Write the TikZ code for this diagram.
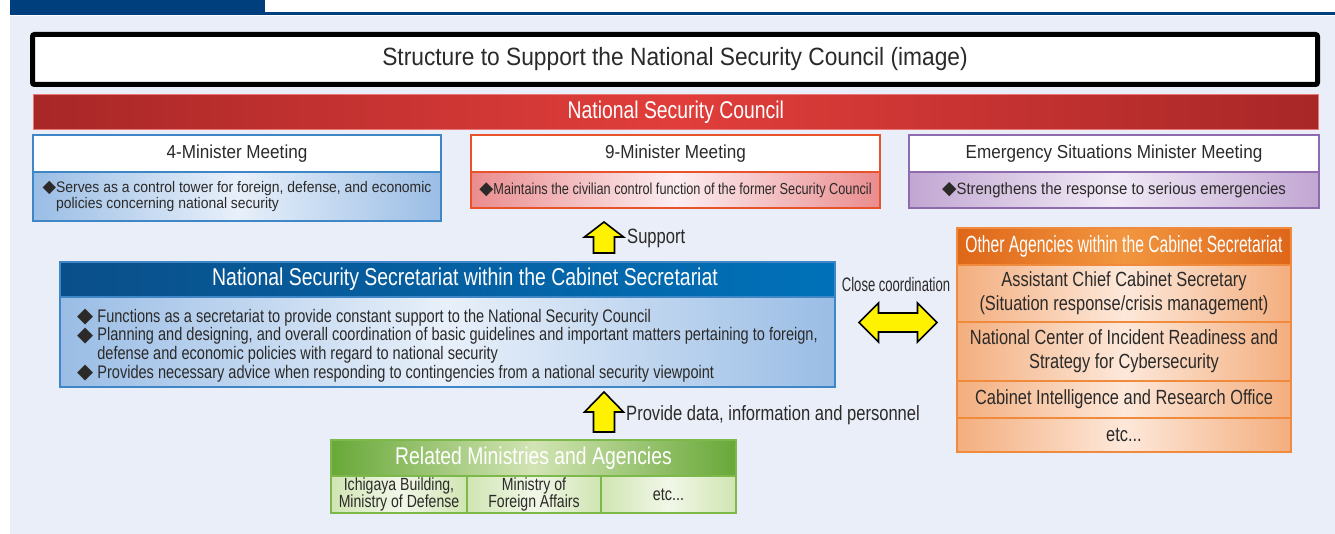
\documentclass[tikz,border=0pt]{standalone}
\usepackage{graphicx}
\usepackage{fontspec}
\setmainfont{Liberation Sans}[FakeStretch=0.91]
\newfontfamily\cond{Liberation Sans}[FakeStretch=0.8]
\newfontfamily\ultra{Liberation Sans}[FakeStretch=0.67]
\newfontfamily\symfont{DejaVu Sans}
\usetikzlibrary{positioning}

\definecolor{ink}{HTML}{2B2A29}
\definecolor{panel}{HTML}{E9EEF8}
\definecolor{navy}{HTML}{003F7D}
\definecolor{redend}{HTML}{A82727}
\definecolor{redmid}{HTML}{E13E3B}
\definecolor{bluebd}{HTML}{3F86C6}
\definecolor{blueend}{HTML}{9ABDE5}
\definecolor{bluemid}{HTML}{E8F0FA}
\definecolor{pinkbd}{HTML}{E8532C}
\definecolor{pinkend}{HTML}{EA8C8E}
\definecolor{pinkmid}{HTML}{FCEEF2}
\definecolor{purpbd}{HTML}{8D6BAE}
\definecolor{purpend}{HTML}{C1A6D2}
\definecolor{purpmid}{HTML}{F1EAF6}
\definecolor{secdark}{HTML}{0A4F8A}
\definecolor{seclight}{HTML}{0071B9}
\definecolor{orabd}{HTML}{F08A3C}
\definecolor{oradark}{HTML}{DE6619}
\definecolor{oralight}{HTML}{F29640}
\definecolor{oraend}{HTML}{F3AE7E}
\definecolor{oramid}{HTML}{FDE8DA}
\definecolor{grnbd}{HTML}{7DB84A}
\definecolor{grndark}{HTML}{68A838}
\definecolor{grnlight}{HTML}{D2E4B4}
\definecolor{grnend}{HTML}{D0E5B2}
\definecolor{grnmid}{HTML}{F1F7E8}
\definecolor{arrowyel}{HTML}{FFF200}

\newcommand{\dia}{\raisebox{-0.05ex}{\scalebox{1.15}{\symfont\symbol{"25C6}}}}
\newcommand{\fs}[2]{\fontsize{#1}{#2}\selectfont}

\tikzset{
  box/.style={draw=#1, line width=1.5pt, anchor=north west, inner sep=0pt, outer sep=0pt, text=ink},
  band/.style={shading=axis, shading angle=90, left color=#1end, right color=#1end, middle color=#1mid},
  yarrow/.style={draw=black, line width=1.6pt, fill=arrowyel, line join=miter},
  lbl/.style={text=ink, inner sep=0pt}
}

\begin{document}
\begin{tikzpicture}[x=1pt,y=-1pt]
\useasboundingbox (0,0) rectangle (1335,534);
\fill[panel] (10,16) rectangle (1335,534);
\fill[navy] (10,0) rectangle (265,15);
\fill[navy] (265,12) rectangle (1335,15);

% title and council
\node[box=black, line width=5pt, rounded corners=2pt, fill=white, minimum width=1285, minimum height=50, font=\fs{25}{28}] (title) at (32.5,34.5) {Structure to Support the National Security Council (image)};
\node[anchor=north west, inner sep=0pt, minimum width=1285, minimum height=35, shading=axis, shading angle=90, left color=redend, right color=redend, middle color=redmid, draw=redmid!70!white, line width=.6pt, text=white, font=\cond\fs{24.2}{26}] (nsc) at (33,94) {National Security Council};

% meetings
\node[box=bluebd, fill=white, minimum width=408, minimum height=37, font=\fs{18.8}{20}] (m4) at (33,135) {4-Minister Meeting};
\node[box=bluebd, band=blue, minimum width=408, minimum height=49, font=\fs{15.3}{16.5}, align=left, below=0pt of m4] (m4b) {\dia Serves as a control tower for foreign, defense, and economic\\\phantom{\dia}policies concerning national security};

\node[box=pinkbd, fill=white, minimum width=409, minimum height=37, font=\fs{18.8}{20}] (m9) at (471,135) {9-Minister Meeting};
\node[box=pinkbd, band=pink, minimum width=409, minimum height=36, font=\cond\fs{15.9}{18}, below=0pt of m9] (m9b) {\dia Maintains the civilian control function of the former Security Council};

\node[box=purpbd, fill=white, minimum width=410, minimum height=37, font=\fs{18.8}{20}] (me) at (909,135) {Emergency Situations Minister Meeting};
\node[box=purpbd, band=purp, minimum width=410, minimum height=36, font=\fs{16.4}{18}, below=0pt of me] (meb) {\dia Strengthens the response to serious emergencies};

% secretariat
\node[box=bluebd, shading=axis, shading angle=90, left color=secdark, right color=seclight, text=white, minimum width=775, minimum height=35, font=\cond\fs{24.3}{26}] (sh) at (60,262) {\hspace*{35pt}National Security Secretariat within the Cabinet Secretariat};
\node[box=bluebd, band=blue, minimum width=775, minimum height=90, align=left, font=\cond\fs{18.2}{18.6}, below=0pt of sh] (sb) {\rule{0pt}{20pt}\dia\ Functions as a secretariat to provide constant support to the National Security Council\\
\dia\ Planning and designing, and overall coordination of basic guidelines and important matters pertaining to foreign,\\
\phantom{\dia\ }defense and economic policies with regard to national security\\
\dia\ Provides necessary advice when responding to contingencies from a national security viewpoint};

% other agencies
\node[box=orabd, shading=axis, shading angle=90, left color=oradark, right color=oradark, middle color=oralight, text=white, minimum width=334, minimum height=37, font=\ultra\fs{23.4}{24}] (oh) at (957,228) {Other Agencies within the Cabinet Secretariat};
\node[box=orabd, band=ora, minimum width=334, minimum height=57, align=center, font=\cond\fs{20.5}{24}, below=0pt of oh] (o1) {Assistant Chief Cabinet Secretary\\(Situation response/crisis management)};
\node[box=orabd, band=ora, minimum width=334, minimum height=59, align=center, font=\cond\fs{20.5}{24}, below=0pt of o1] (o2) {National Center of Incident Readiness and\\Strategy for Cybersecurity};
\node[box=orabd, band=ora, minimum width=334, minimum height=37, font=\cond\fs{20.5}{22}, below=0pt of o2] (o3) {Cabinet Intelligence and Research Office};
\node[box=orabd, band=ora, minimum width=334, minimum height=34, font=\cond\fs{20.5}{22}, below=0pt of o3] (o4) {etc...};

% related ministries
\node[box=grnbd, shading=axis, shading angle=90, left color=grndark, right color=grndark, middle color=grnlight, text=white, minimum width=405, minimum height=36, font=\cond\fs{24.2}{26}] (gh) at (331,440) {Related Ministries and Agencies};
\node[box=grnbd, band=grn, minimum width=136, minimum height=37, align=center, font=\cond\fs{17.6}{17}, below right=0pt and 0pt of gh.south west] (g1) {Ichigaya Building,\\Ministry of Defense};
\node[box=grnbd, band=grn, minimum width=134, minimum height=37, align=center, font=\cond\fs{17.6}{17}, right=0pt of g1] (g2) {Ministry of\\Foreign Affairs};
\node[box=grnbd, band=grn, minimum width=135, minimum height=37, font=\cond\fs{18}{18}, right=0pt of g2] (g3) {etc...};

% block arrows
\coordinate (suptip) at (604,222);
\coordinate (protip) at (604,392);
\draw[yarrow] (suptip) -- ++(19.5,15) -- ++(-9,0) -- ++(0,16) -- ++(-21,0) -- ++(0,-16) -- ++(-9,0) -- cycle;
\draw[yarrow] (protip) -- ++(19.5,20) -- ++(-9,0) -- ++(0,20) -- ++(-21,0) -- ++(0,-20) -- ++(-9,0) -- cycle;
\coordinate (cl) at (859,322.5);
\draw[yarrow] (cl) -- ++(19.5,-19.5) -- ++(0,10) -- ++(39,0) -- ++(0,-10) -- ++(19.5,19.5) -- ++(-19.5,19.5) -- ++(0,-10) -- ++(-39,0) -- ++(0,10) -- cycle;

\node[lbl, anchor=west, font=\cond\fs{20.7}{22}] (suplbl) at (627,238) {Support};
\node[lbl, anchor=west, font=\cond\fs{20.7}{22}] (prolbl) at (626,415) {Provide data, information and personnel};
\node[lbl, font=\ultra\fs{19.5}{20}] (cllbl) at (896,285) {Close coordination};
\end{tikzpicture}
\end{document}
